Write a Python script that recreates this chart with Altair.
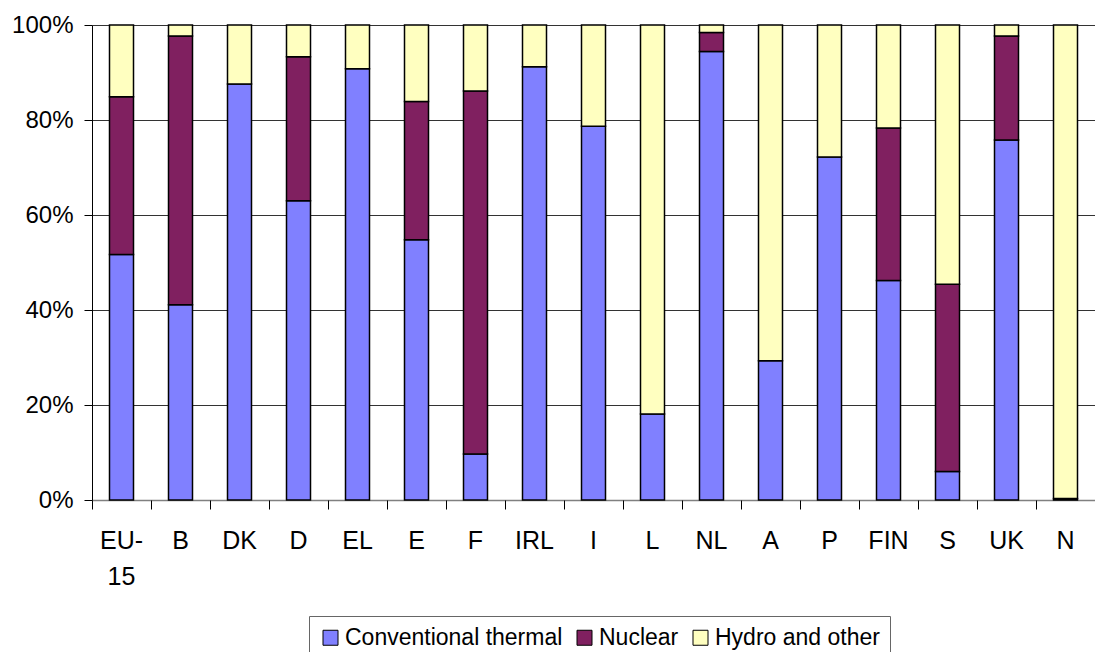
import altair as alt
import pandas as pd

countries = ["EU-15", "B", "DK", "D", "EL", "E", "F", "IRL", "I", "L",
             "NL", "A", "P", "FIN", "S", "UK", "N"]
series = ["Conventional thermal", "Nuclear", "Hydro and other"]
colors = ["#8080FF", "#802060", "#FFFFC0"]

conventional = [51.7, 41.1, 87.6, 63.0, 90.8, 54.8, 9.7, 91.2, 78.7, 18.1,
                94.4, 29.3, 72.2, 46.2, 6.0, 75.8, 0.3]
nuclear = [33.2, 56.6, 0.0, 30.3, 0.0, 29.1, 76.4, 0.0, 0.0, 0.0,
           4.0, 0.0, 0.0, 32.1, 39.4, 21.9, 0.0]
hydro = [15.1, 2.3, 12.4, 6.7, 9.2, 16.1, 13.9, 8.8, 21.3, 81.9,
         1.6, 70.7, 27.8, 21.7, 54.6, 2.3, 99.7]

rows = []
for i, c in enumerate(countries):
    for k, (s, vals) in enumerate(zip(series, [conventional, nuclear, hydro])):
        if vals[i] > 0:
            rows.append({"country": c, "source": s, "value": vals[i] / 100.0, "order": k})
df = pd.DataFrame(rows)

FONT = "Liberation Sans"

base = alt.Chart(df)

bars = base.mark_bar(size=24, stroke="black", strokeWidth=1.5).encode(
    x=alt.X(
        "country:N",
        sort=countries,
        scale=alt.Scale(paddingInner=0, paddingOuter=0),
        axis=alt.Axis(
            title=None, orient="bottom", labelAngle=0, labelFont=FONT,
            labelFontSize=25, labelColor="black", ticks=False, tickSize=0,
            labelPadding=28, domainColor="#808080", domainWidth=1.5, grid=False,
            labelLineHeight=36,
            labelExpr="datum.label == 'EU-15' ? ['EU-', '15'] : datum.label",
        ),
    ),
    y=alt.Y(
        "value:Q",
        stack="zero",
        scale=alt.Scale(domain=[0, 1]),
        axis=alt.Axis(
            title=None, format="%", values=[0, 0.2, 0.4, 0.6, 0.8, 1.0],
            labelFont=FONT, labelFontSize=24, labelColor="black",
            tickSize=8, tickColor="black", domainColor="black",
            gridColor="#333333", labelPadding=11,
        ),
    ),
    color=alt.Color(
        "source:N",
        sort=series,
        scale=alt.Scale(domain=series, range=colors),
        legend=alt.Legend(
            title=None, orient="none", legendX=217, legendY=591,
            direction="horizontal", labelFont=FONT, labelFontSize=23,
            labelColor="black", labelLimit=0, symbolType="square", symbolSize=225,
            symbolStrokeColor="black", symbolStrokeWidth=1,
            strokeColor="#666666", fillColor="white", padding=10,
            columnPadding=10, labelOffset=3,
        ),
    ),
    order=alt.Order("order:Q"),
)

tick_layer = base.mark_point(opacity=0).encode(
    x=alt.X(
        "country:N",
        sort=countries,
        axis=alt.Axis(
            title=None, orient="bottom", bandPosition=0, labels=False,
            ticks=True, tickSize=9, tickColor="black", domain=False, grid=False,
        ),
    ),
)

chart = (
    alt.layer(bars, tick_layer)
    .resolve_axis(x="independent")
    .properties(
        width=1003,
        height=475,
        padding={"left": 84, "top": 17, "right": 0, "bottom": 152},
        autosize=alt.AutoSizeParams(type="none"),
    )
    .configure_view(strokeWidth=0)
)

chart.save("out.html", embed_options={"renderer": "svg", "actions": False})
